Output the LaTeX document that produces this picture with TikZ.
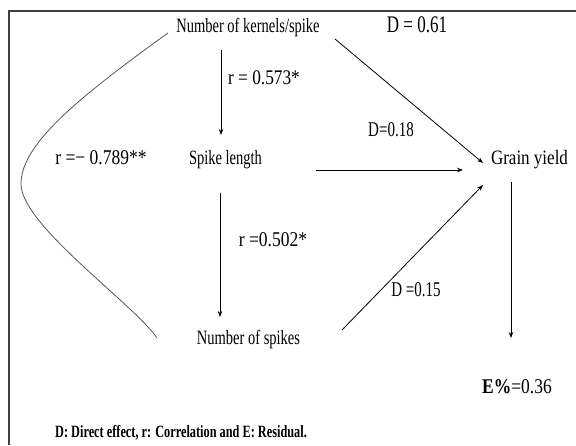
\documentclass[tikz,border=0pt]{standalone}
\usepackage{fontspec}
\setmainfont{Liberation Serif}
\usetikzlibrary{arrows.meta}

\begin{document}
\begin{tikzpicture}[x=1pt, y=1pt,
    >={Stealth[length=6pt,width=4.5pt]},
    trait/.style={inner sep=0pt, yscale=1.4, font=\fontsize{14.5}{16}\selectfont},
    coef/.style={inner sep=0pt, yscale=1.2, font=\fontsize{17.5}{20}\selectfont},
    direct/.style={inner sep=0pt, yscale=1.4, font=\fontsize{15}{18}\selectfont},
    effect/.style={->, line width=0.8pt}]
    \definecolor{borderColour}{HTML}{3F3F3F}
    \definecolor{curveColour}{HTML}{555555}

    % Fix the page size
    \useasboundingbox (0,0) rectangle (576,445);

    % Draw frame
    \draw[borderColour, line width=1.2pt] (9,0) -- (9,434) -- (576,434);

    % Place traits
    \node[trait] (kernels) at (248,417) {Number of kernels/spike};
    \node[trait] (length) at (225.5,285) {Spike length};
    \node[trait] (spikes) at (248.5,105) {Number of spikes};
    \node[coef, font=\fontsize{17}{20}\selectfont] (yield) at (529.5,285) {Grain yield};
    \node[coef] (residual) at (517,58) {\textbf{E\%}=0.36};

    % Label coefficients
    \node[direct, font=\fontsize{17}{20}\selectfont] (dKernels) at (417,420) {D = 0.61};
    \node[coef, font=\fontsize{17.3}{20}\selectfont] (rKernLen) at (264,367) {r = 0.573*};
    \node[direct] (dLength) at (391,315) {D=0.18};
    \node[coef] (rKernSpk) at (101,287) {r =− 0.789**};
    \node[coef] (rLenSpk) at (273,205) {r =0.502*};
    \node[direct] (dSpikes) at (416,155) {D =0.15};

    % Draw paths
    \draw[effect] ([shift={(-27,-22)}]kernels.center) -- ([shift={(-4.5,25)}]length.center);
    \draw[effect] ([shift={(-5.5,-33)}]length.center) -- ([shift={(-28.5,23)}]spikes.center);
    \draw[effect] ([shift={(87,-11)}]kernels.center) -- ([shift={(-46.5,-3)}]yield.center);
    \draw[effect] ([shift={(90.5,-10)}]length.center) -- ([shift={(-66.5,-10)}]yield.center);
    \draw[effect] ([shift={(93.5,10)}]spikes.center) -- ([shift={(-46.5,-25)}]yield.center);
    \draw[effect] ([shift={(-18.5,-22)}]yield.center) -- ([shift={(-6,49)}]residual.center);

    % Draw correlation curve
    \draw[curveColour, line width=0.8pt] ([shift={(-80,-5)}]kernels.center)
        .. controls (75,345) and (21,300) .. (21,261)
        .. controls (21,220) and (135,140) .. ([shift={(-91.5,2)}]spikes.center);

    % Legend
    \node[inner sep=0pt, yscale=1.4, font=\bfseries\fontsize{12.3}{14}\selectfont] (legend) at (181,12)
        {D: Direct effect, r: Correlation and E: Residual.};

\end{tikzpicture}
\end{document}
